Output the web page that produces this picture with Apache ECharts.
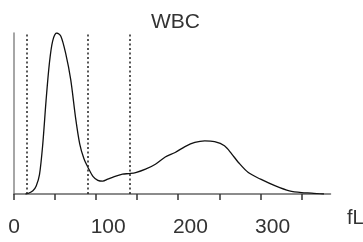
<!DOCTYPE html>
<html>
<head>
<meta charset="utf-8">
<script src="https://cdn.jsdelivr.net/npm/echarts@6/dist/echarts.min.js"></script>
<style>
  html, body { margin: 0; padding: 0; background: #fff; }
  #chart { width: 363px; height: 242px; }
</style>
</head>
<body>
<div id="chart"></div>
<script>
// cell volume (fL) and relative count
const sizes  = [14, 17, 23, 27, 31, 35, 39, 43, 47, 52, 57, 63, 69, 75, 80, 85, 90, 96, 102, 108, 114, 122, 132, 140, 148, 160, 172, 184, 196, 208, 220, 232, 244, 256, 265, 273, 285, 300, 318, 335, 350, 362, 377];
const counts = [0, 0.3, 2, 5, 12, 31, 58, 81, 95, 100, 98, 87, 71, 47, 31, 22, 16.5, 11, 8.5, 8, 9.2, 10.8, 12.3, 12.7, 13.3, 15.4, 18.5, 23, 25.8, 29.4, 32, 33, 32.5, 30, 24.8, 19.6, 13.3, 9.2, 5, 1.9, 0.8, 0.6, 0];
// discriminator positions (dotted lines)
const cutoffs = [15, 90, 141];
const tickValues = [0, 50, 100, 150, 200, 250, 300, 350];
const labelValues = [0, 100, 200, 300];

const font = 'Liberation Sans';
const chart = echarts.init(document.getElementById('chart'));

const fLText = {
  type: 'text',
  x: 347,
  y: 218,
  style: { text: 'fL', fontFamily: font, fontSize: 20, fill: '#333', verticalAlign: 'middle' }
};

chart.setOption({
  animation: false,
  title: {
    text: 'WBC',
    left: 146,
    top: 7,
    textStyle: { fontFamily: font, fontSize: 21, fontWeight: 'normal', color: '#333' }
  },
  grid: { left: 14, right: 32.5, top: 33, bottom: 48 },
  xAxis: {
    type: 'value',
    min: 0,
    max: 385,
    axisLine: { show: true, lineStyle: { color: '#666', width: 1.5 } },
    axisTick: { show: false },
    axisLabel: {
      customValues: labelValues,
      margin: 23,
      fontFamily: font,
      fontSize: 21,
      color: '#333',
      formatter: v => (v === 0 ? '{z|0}' : '{n|' + v + '}'),
      rich: {
        z: { fontFamily: font, fontSize: 21, color: '#333' },
        n: { fontFamily: font, fontSize: 21, color: '#333', padding: [0, 0, 0, 24] }
      }
    },
    splitLine: { show: false }
  },
  yAxis: {
    type: 'value',
    min: 0,
    max: 100,
    axisLine: { show: true, onZero: false, lineStyle: { color: '#888', width: 1.5 } },
    axisTick: { show: false },
    axisLabel: { show: false },
    splitLine: { show: false }
  },
  graphic: [fLText],
  series: [{
    type: 'line',
    data: sizes.map((s, i) => [s, counts[i]]),
    smooth: 0.3,
    showSymbol: false,
    lineStyle: { color: '#111', width: 1.3 },
    markLine: {
      silent: true,
      symbol: 'none',
      label: { show: false },
      lineStyle: { color: '#222', type: [2, 2.5], width: 1.5 },
      data: cutoffs.map(c => ({ xAxis: c }))
    }
  }]
});

// ticks placed from the axis scale, drawn below the baseline
const baseY = chart.convertToPixel({ yAxisIndex: 0 }, 0);
const tickLines = tickValues.map(v => {
  const x = Math.round(chart.convertToPixel({ xAxisIndex: 0 }, v));
  return [[x, baseY], [x, baseY + 6]];
});
chart.setOption({
  graphic: [fLText, {
    type: 'group',
    z: 100,
    silent: true,
    children: tickLines.map(pts => ({
      type: 'polyline',
      z: 100,
      shape: { points: pts },
      style: { stroke: '#333', lineWidth: 1.5, fill: null }
    }))
  }]
});
</script>
</body>
</html>
